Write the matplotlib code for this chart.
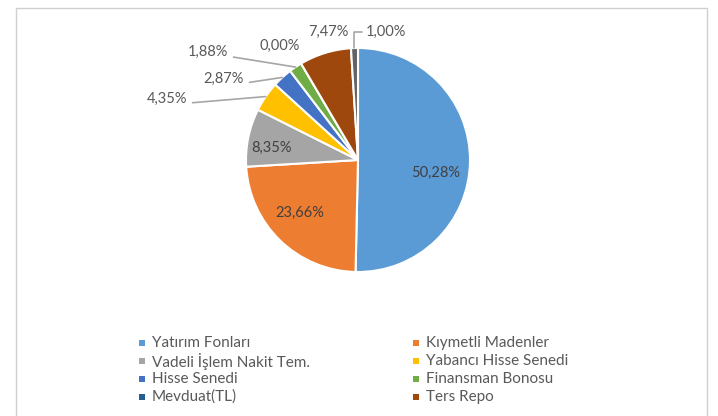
import matplotlib
matplotlib.use("Agg")
import matplotlib.pyplot as plt
from matplotlib.patches import Rectangle
import numpy as np

categories = ["Yatırım Fonları", "Kıymetli Madenler", "Vadeli İşlem Nakit Tem.",
              "Yabancı Hisse Senedi", "Hisse Senedi", "Finansman Bonosu",
              "Mevduat(TL)", "Ters Repo", ""]
values = [50.28, 23.66, 8.35, 4.35, 2.87, 1.88, 0.00, 7.47, 1.00]
labels = ["50,28%", "23,66%", "8,35%", "4,35%", "2,87%", "1,88%", "0,00%", "7,47%", "1,00%"]
colors = ["#5B9BD5", "#ED7D31", "#A5A5A5", "#FFC000", "#4472C4", "#70AD47",
          "#255E91", "#9E480E", "#636363"]

plt.rcParams['font.family'] = ['Lato', 'DejaVu Sans']
W, H = 718, 416
fig = plt.figure(figsize=(W / 100, H / 100), dpi=100)

# outer frame
fig.patches.append(Rectangle((15.5 / W, -0.02), 691 / W, (H - 7.5) / H + 0.02,
                             transform=fig.transFigure, fill=False,
                             edgecolor="#cfcfcf", linewidth=1.0, zorder=10))

cx, cy, half = 358, H - 160, 160
ax = fig.add_axes([(cx - half) / W, (cy - half) / H, 2 * half / W, 2 * half / H])

R = 1.12
wedges, _ = ax.pie(values, colors=colors, radius=R, startangle=90, counterclock=False,
                   wedgeprops=dict(edgecolor="white", linewidth=1.5))
ax.set_xlim(-1.6, 1.6)
ax.set_ylim(-1.6, 1.6)
ax.set_aspect("equal")
ax.axis("off")

total = sum(values)
cum = np.cumsum([0] + values[:-1])
mids = 90 - (cum + np.array(values) / 2) / total * 360

def edge(i):
    a = np.deg2rad(mids[i])
    return (R * np.cos(a), R * np.sin(a))

def px(x, y):
    # convert reference pixel position to data coords
    return ((x - cx) / 100.0, (160 - y) / 100.0)

# inside labels
inside = {0: px(436, 173), 1: px(300, 213), 2: px(271, 148)}
for i, pos in inside.items():
    ax.text(pos[0], pos[1], labels[i], ha="center", va="center",
            fontsize=10.5, color="#404040")

lc = "#a6a6a6"
tc = "#595959"
# outside labels with leader lines (left side)
outside_left = {3: px(187, 99), 4: px(244, 79), 5: px(228, 52)}
for i, pos in outside_left.items():
    ax.annotate(labels[i], xy=edge(i), xytext=pos, ha="right", va="center",
                fontsize=10.5, color=tc,
                arrowprops=dict(arrowstyle="-", color=lc, lw=1.2,
                                shrinkA=2, shrinkB=0, relpos=(1, 0.2)))
# labels without leader lines
p = px(280, 46)
ax.text(p[0], p[1], labels[6], ha="center", va="center", fontsize=10.5, color=tc)
p = px(328, 32)
ax.text(p[0], p[1], labels[7], ha="center", va="center", fontsize=10.5, color=tc)
# 1,00% with bent leader
ax.annotate(labels[8], xy=edge(8), xytext=px(366, 32), ha="left", va="center",
            fontsize=10.5, color=tc,
            arrowprops=dict(arrowstyle="-", color=lc, lw=1.2, shrinkA=1, shrinkB=0,
                            relpos=(0, 0.5),
                            connectionstyle="angle,angleA=180,angleB=90,rad=0"))

# legend: two columns, row-wise order
col_marker_x = [139, 413]
col_text_x = [152, 426]
row_y = [343, 361, 379, 397]
for i in range(8):
    r, c = i // 2, i % 2
    y = row_y[r]
    fig.patches.append(Rectangle((col_marker_x[c] / W, (H - y - 3) / H), 6 / W, 6 / H,
                                 transform=fig.transFigure, facecolor=colors[i],
                                 edgecolor="none"))
    fig.text(col_text_x[c] / W, (H - y) / H, categories[i], ha="left", va="center",
             fontsize=11, color=tc)

fig.savefig("out.png", dpi=100, facecolor="white")
